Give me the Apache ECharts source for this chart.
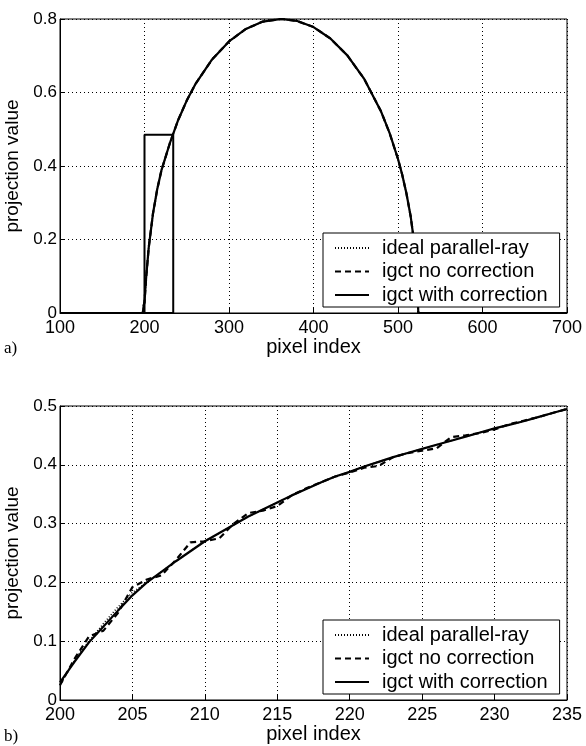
<!DOCTYPE html>
<html>
<head>
<meta charset="utf-8">
<script src="https://cdn.jsdelivr.net/npm/echarts@6/dist/echarts.min.js"></script>
<style>
html,body{margin:0;padding:0;background:#fff;}
#c{width:586px;height:746px;}
</style>
</head>
<body>
<div id="c"></div>
<script>
// ---- Panel a) data ----
var topX = [100, 198, 199, 200, 202, 205, 210, 215, 220, 230, 240, 250, 260, 280, 300, 320, 340, 362, 380, 400, 420, 440, 460, 480, 490, 500, 505, 510, 515, 520, 522, 523, 524, 700];
var topY = [0, 0, 0.02, 0.03, 0.098, 0.178, 0.27, 0.336, 0.388, 0.462, 0.526, 0.578, 0.622, 0.690, 0.739, 0.773, 0.793, 0.8, 0.795, 0.778, 0.747, 0.701, 0.637, 0.548, 0.490, 0.419, 0.376, 0.325, 0.263, 0.177, 0.125, 0.085, 0, 0];
var boxX = [200, 200, 234, 234, 200];
var boxY = [0, 0.485, 0.485, 0, 0];

// ---- Panel b) data ----
var botX = [200,201,202,203,204,205,206,207,208,209,210,211,212,213,214,215,216,217,218,219,220,221,222,223,224,225,226,227,228,229,230,231,232,233,234,235];
var idealY = [0.025,0.068,0.100,0.130,0.158,0.183,0.200,0.218,0.236,0.253,0.270,0.284,0.298,0.312,0.324,0.336,0.348,0.359,0.370,0.380,0.388,0.397,0.405,0.413,0.420,0.427,0.434,0.441,0.448,0.455,0.462,0.468,0.474,0.481,0.488,0.495];
var noCorrY = [0.025,0.070,0.108,0.118,0.148,0.192,0.205,0.212,0.238,0.268,0.270,0.275,0.300,0.318,0.322,0.330,0.348,0.360,0.370,0.380,0.387,0.395,0.398,0.413,0.420,0.424,0.428,0.447,0.450,0.454,0.460,0.469,0.475,0.481,0.488,0.495];
var withCorrY = [0.030,0.065,0.098,0.125,0.152,0.178,0.200,0.218,0.236,0.253,0.270,0.284,0.298,0.312,0.324,0.336,0.348,0.359,0.370,0.380,0.388,0.397,0.405,0.413,0.420,0.427,0.434,0.441,0.448,0.455,0.462,0.468,0.474,0.481,0.488,0.495];

var names = ['ideal parallel-ray', 'igct no correction', 'igct with correction'];

function zip(xs, ys){ return xs.map(function(x,i){ return [x, ys[i]]; }); }

var FONT = 'Liberation Sans';
var splitStyle = {show:true, lineStyle:{color:'#000', type:[1,3], width:1}};

function xAxis(gi, min, max, interval){
  return {type:'value', gridIndex:gi, min:min, max:max, interval:interval,
    name:'pixel index', nameLocation:'middle', nameGap:20,
    nameTextStyle:{color:'#000', fontFamily:FONT, fontSize:20},
    axisLine:{show:true, lineStyle:{color:'#000', width:1}},
    axisTick:{show:true, inside:true, length:5, lineStyle:{color:'#000'}},
    axisLabel:{margin:6, color:'#000', fontFamily:FONT, fontSize:18},
    splitLine:splitStyle};
}
function yAxis(gi, min, max, interval){
  return {type:'value', gridIndex:gi, min:min, max:max, interval:interval,
    name:'projection value', nameLocation:'middle', nameGap:33,
    nameTextStyle:{color:'#000', fontFamily:FONT, fontSize:19},
    axisLine:{show:true, lineStyle:{color:'#000', width:1}},
    axisTick:{show:true, inside:true, length:5, lineStyle:{color:'#000'}},
    axisLabel:{margin:3, color:'#000', fontFamily:FONT, fontSize:17,
      formatter:function(v){return String(+v.toFixed(2));}},
    splitLine:splitStyle};
}

function lineSeries(name, xi, data, type, width){
  return {name:name, type:'line', xAxisIndex:xi, yAxisIndex:xi, data:data,
    symbol:'none', animation:false, silent:true,
    lineStyle:{color:'#000', width:width, type:type}, itemStyle:{color:'#000'}};
}

var series = [
  lineSeries(names[0], 0, zip(topX, topY), [1,2], 1.5),
  lineSeries(names[1], 0, zip(topX, topY), [6,4], 2.2),
  lineSeries(names[2], 0, zip(topX, topY), 'solid', 2.2),
  {type:'line', xAxisIndex:0, yAxisIndex:0, data:zip(boxX, boxY), symbol:'none', animation:false, silent:true,
    lineStyle:{color:'#000', width:2}},
  lineSeries(names[0], 1, zip(botX, idealY), [1,2], 1.5),
  lineSeries(names[1], 1, zip(botX, noCorrY), [6,4], 2.2),
  lineSeries(names[2], 1, zip(botX, withCorrY), 'solid', 2.2)
];

function legend(top){
  return {data:names, orient:'vertical', left:323, top:top, itemWidth:34, itemHeight:20, itemGap:3.5,
    padding:[5,12,2,11], backgroundColor:'#fff', borderColor:'#000', borderWidth:1, borderRadius:0,
    selectedMode:false, itemStyle:{opacity:0},
    textStyle:{color:'#000', fontFamily:FONT, fontSize:20, padding:[0,0,0,8]}};
}

var chart = echarts.init(document.getElementById('c'), null, {renderer:'canvas'});
chart.setOption({
  backgroundColor:'#fff',
  animation:false,
  grid:[
    {left:60, top:19, width:507, height:294, show:true, borderColor:'#000', borderWidth:1, outerBoundsMode:'none', containLabel:false},
    {left:60, top:406, width:507, height:294, show:true, borderColor:'#000', borderWidth:1, outerBoundsMode:'none', containLabel:false}
  ],
  xAxis:[xAxis(0, 100, 700, 100), xAxis(1, 200, 235, 5)],
  yAxis:[yAxis(0, 0, 0.8, 0.2), yAxis(1, 0, 0.5, 0.1)],
  legend:[legend(233), legend(620)],
  graphic:[
    {type:'text', left:4, top:340, style:{text:'a)', font:'17px "Liberation Serif"', fill:'#000'}},
    {type:'text', left:4, top:728, style:{text:'b)', font:'17px "Liberation Serif"', fill:'#000'}}
  ],
  series:series
});
</script>
</body>
</html>
